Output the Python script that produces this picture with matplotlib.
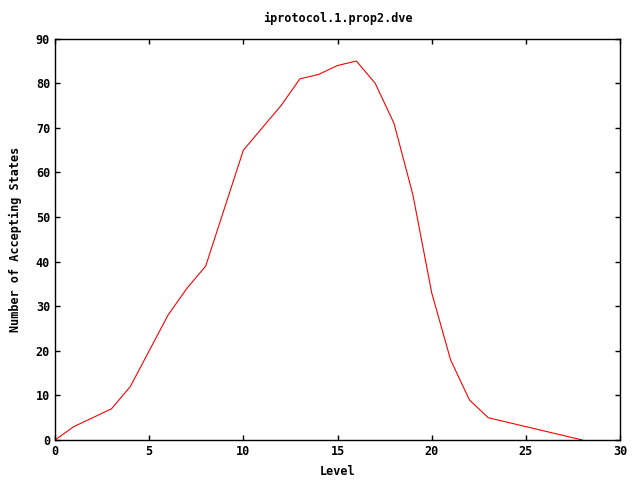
import matplotlib
matplotlib.use("Agg")
import matplotlib.pyplot as plt

levels = list(range(0, 29))
accepting = [0, 3, 5, 7, 12, 20, 28, 34, 39, 52, 65, 70, 75, 81, 82, 84, 85, 80, 71, 55,
             33, 18, 9, 5, 4, 3, 2, 1, 0]

xticks = [0, 5, 10, 15, 20, 25, 30]
yticks = [0, 10, 20, 30, 40, 50, 60, 70, 80, 90]

plt.rcParams['font.family'] = ['DejaVu Sans Mono']
fig = plt.figure(figsize=(6.4, 4.8), dpi=100)
ax = fig.add_axes([0.0859, 0.0833, 0.883, 0.836])
ax.plot(levels, accepting, color='#ff0000', linewidth=0.8)
ax.set_xlim(0, 30)
ax.set_ylim(0, 90)
ax.set_xticks(xticks)
ax.set_yticks(yticks)
ax.tick_params(direction='in', top=True, right=True, length=3.5, width=1, labelsize=8.5)
for lab in ax.get_xticklabels() + ax.get_yticklabels():
    lab.set_fontweight('bold')
for s in ax.spines.values():
    s.set_linewidth(1)
ax.set_xlabel('Level', fontsize=8.5, fontweight='bold', labelpad=5)
ax.set_ylabel('Number of Accepting States', fontsize=8.5, fontweight='bold', labelpad=10)
ax.set_title('iprotocol.1.prop2.dve', fontsize=8.5, fontweight='bold', pad=12)
fig.savefig('out.png', dpi=100)
